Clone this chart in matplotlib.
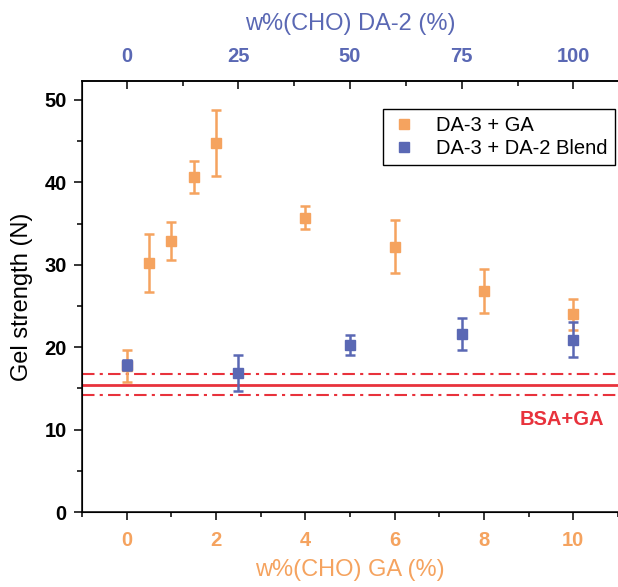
import matplotlib
matplotlib.use('Agg')
import matplotlib.pyplot as plt
from matplotlib.lines import Line2D
from matplotlib.ticker import MultipleLocator

plt.rcParams['font.family'] = ['Liberation Sans', 'DejaVu Sans']

# DA-3 + GA (bottom axis, w% GA)
ga_x = [0, 0.5, 1, 1.5, 2, 4, 6, 8, 10]
ga_y = [17.7, 30.2, 32.9, 40.6, 44.8, 35.7, 32.2, 26.8, 24.0]
ga_err = [1.9, 3.5, 2.35, 1.95, 4.0, 1.4, 3.25, 2.65, 1.9]

# DA-3 + DA-2 blend (top axis, w% DA-2)
da2_x = [0, 25, 50, 75, 100]
da2_y = [17.8, 16.9, 20.3, 21.6, 20.9]
da2_err = [0.6, 2.2, 1.2, 1.9, 2.1]

# BSA + GA reference band
bsa_mean = 15.4
bsa_band = [16.8, 14.2]

orange = '#F5A35F'
blue = '#5A68B4'
red = '#E8323C'

fig = plt.figure(figsize=(6.18, 5.87), dpi=100)
ax = fig.add_axes([82/618, 75/587, 536/618, 431/587])

ax.axhline(bsa_mean, color=red, lw=2, zorder=1)
for v in bsa_band:
    ax.axhline(v, color=red, lw=1.5, ls=(0, (6, 2.5, 1.5, 2.5)), zorder=1)

ax.errorbar(ga_x, ga_y, yerr=ga_err, fmt='s', color=orange, ms=7.5,
            elinewidth=1.8, capsize=3.5, capthick=1.8, zorder=3)

ax.set_xlim(-1, 11)
ax.set_ylim(0, 52.3)
ax.xaxis.set_major_locator(MultipleLocator(2))
ax.xaxis.set_minor_locator(MultipleLocator(1))
ax.yaxis.set_major_locator(MultipleLocator(10))
ax.yaxis.set_minor_locator(MultipleLocator(5))
ax.spines['right'].set_visible(False)
for s in ['left', 'bottom', 'top']:
    ax.spines[s].set_linewidth(1.1)
ax.tick_params(axis='both', which='major', direction='out', length=6, width=1.1,
               labelsize=14.5)
ax.tick_params(axis='both', which='minor', direction='out', length=3.5, width=1.1)
ax.tick_params(axis='x', which='major', pad=8, labelcolor=orange)
ax.tick_params(axis='y', which='major', pad=5)
for lab in ax.get_xticklabels() + ax.get_yticklabels():
    lab.set_fontweight('bold')

ax.set_xlabel('w%(CHO) GA (%)', fontsize=17, color=orange, labelpad=6)
ax.set_ylabel('Gel strength (N)', fontsize=17, labelpad=8)

ax.text(9.75, 11.2, 'BSA+GA', color=red, fontsize=14.5, fontweight='bold',
        ha='center', va='center')

ax2 = ax.twiny()
ax2.errorbar(da2_x, da2_y, yerr=da2_err, fmt='s', color=blue, ms=7.5,
             elinewidth=1.8, capsize=3.5, capthick=1.8, zorder=3)
ax2.set_xlim(-10, 110)
ax2.xaxis.set_major_locator(MultipleLocator(25))
ax2.xaxis.set_minor_locator(MultipleLocator(12.5))
ax2.spines['right'].set_visible(False)
ax2.spines['top'].set_linewidth(1.1)
ax2.tick_params(axis='x', which='major', direction='in', length=6, width=1.1,
                labelsize=14.5, labelcolor=blue, pad=11)
ax2.tick_params(axis='x', which='minor', direction='in', length=3.5, width=1.1)
for lab in ax2.get_xticklabels():
    lab.set_fontweight('bold')
ax2.set_xlabel('w%(CHO) DA-2 (%)', fontsize=17, color=blue, labelpad=12)

handles = [
    Line2D([], [], marker='s', ls='none', color=orange, ms=7.5),
    Line2D([], [], marker='s', ls='none', color=blue, ms=7.5),
]
leg = ax2.legend(handles, ['DA-3 + GA', 'DA-3 + DA-2 Blend'], loc='upper right',
                 bbox_to_anchor=(0.994, 0.936), fontsize=14.5, fancybox=False,
                 edgecolor='black', framealpha=1, borderaxespad=0,
                 handlelength=1.4, handletextpad=0.9, borderpad=0.35,
                 labelspacing=0.2)
leg.get_frame().set_linewidth(1.0)

fig.savefig('out.png', dpi=100)
